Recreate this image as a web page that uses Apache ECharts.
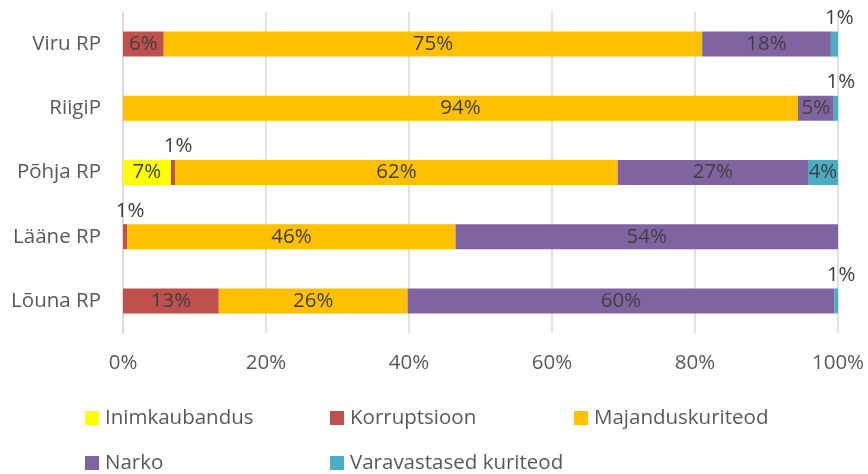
<!DOCTYPE html>
<html><head><meta charset="utf-8">
<script src="https://cdn.jsdelivr.net/npm/echarts@6/dist/echarts.min.js"></script>
<style>html,body{margin:0;padding:0;background:#fff}#c{width:868px;height:474px}</style>
</head><body><div id="c"></div>
<script>
var categories = ['Viru RP', 'RiigiP', 'Põhja RP', 'Lääne RP', 'Lõuna RP'];
var seriesNames = ['Inimkaubandus', 'Korruptsioon', 'Majanduskuriteod', 'Narko', 'Varavastased kuriteod'];
var inimkaubandus = [0, 0, 6.7, 0, 0];
var korruptsioon = [5.7, 0, 0.6, 0.6, 13.4];
var majanduskuriteod = [75.3, 94.4, 61.9, 45.9, 26.4];
var narko = [18.0, 5.0, 26.6, 53.5, 59.7];
var varavastased = [1.0, 0.6, 4.2, 0, 0.5];
var xTicks = [0, 20, 40, 60, 80, 100];

var colors = ['#FFFF00', '#C0504D', '#FFC000', '#8064A2', '#4BACC6'];
var values = [inimkaubandus, korruptsioon, majanduskuriteod, narko, varavastased];
var FONT = 'Open Sans';

function makeData(arr) {
  return arr.map(function (v) {
    if (v > 0 && v < 2) {
      return { value: v, label: { position: 'top', distance: 3, offset: [5, 0] } };
    }
    return v;
  });
}

var series = seriesNames.map(function (name, i) {
  return {
    name: name,
    type: 'bar',
    stack: 'total',
    barWidth: 25,
    itemStyle: { color: colors[i] },
    label: {
      show: true,
      position: 'inside',
      color: '#404040',
      fontFamily: FONT,
      fontSize: 20.5,
      formatter: function (p) {
        return p.value > 0 ? Math.round(p.value) + '%' : '';
      }
    },
    data: makeData(values[i])
  };
});

var legendPos = [[85, 405], [330, 405], [574, 405], [85, 450], [330, 450]];
var legends = seriesNames.map(function (name, i) {
  return {
    data: [name],
    left: legendPos[i][0],
    top: legendPos[i][1],
    padding: 0,
    itemWidth: 14,
    itemHeight: 14,
    itemGap: 0,
    icon: 'rect',
    selectedMode: false,
    textStyle: { color: '#595959', fontFamily: FONT, fontSize: 20.5, padding: [0, 0, 0, 1], lineHeight: 26 }
  };
});

var chart = echarts.init(document.getElementById('c'), null, { renderer: 'canvas' });
chart.setOption({
  animation: false,
  color: colors,
  legend: legends,
  grid: { left: 123, right: 30, top: 12, bottom: 141, containLabel: false },
  xAxis: {
    type: 'value',
    min: 0,
    max: 100,
    interval: 20,
    axisLine: { show: false },
    axisTick: { show: false },
    splitLine: { show: true, lineStyle: { color: '#D9D9D9', width: 1.5 } },
    axisLabel: {
      color: '#595959', fontFamily: FONT, fontSize: 20.5, margin: 20,
      formatter: function (v) { return xTicks.indexOf(v) >= 0 ? v + '%' : ''; }
    }
  },
  yAxis: {
    type: 'category',
    data: categories,
    inverse: true,
    axisLine: { show: true, lineStyle: { color: '#D9D9D9', width: 1.5 } },
    axisTick: { show: false },
    axisLabel: { color: '#595959', fontFamily: FONT, fontSize: 20.5, margin: 22 }
  },
  series: series
});
</script>
</body></html>
